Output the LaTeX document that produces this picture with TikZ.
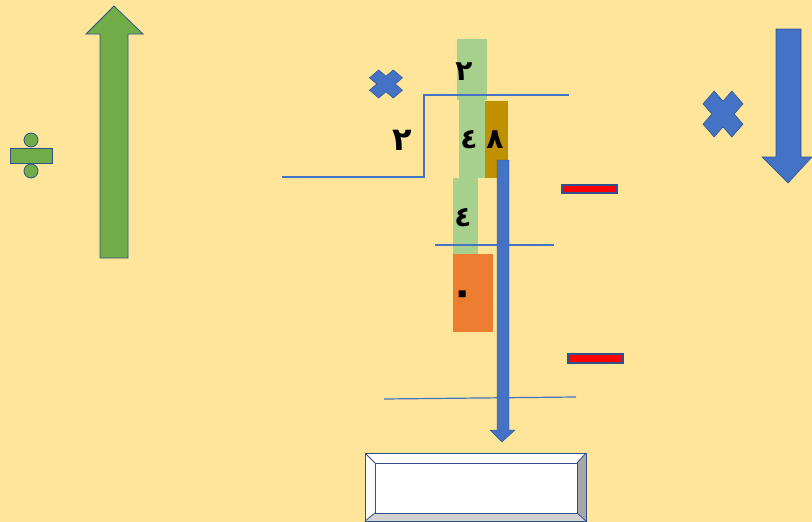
\documentclass[tikz,border=0pt]{standalone}
\usepackage{fontspec}
\newfontfamily\arabicfont[Script=Arabic]{DejaVu Sans}
\definecolor{bgy}{RGB}{254,229,153}
\definecolor{ablue}{RGB}{68,114,196}
\definecolor{dblue}{RGB}{47,82,143}
\definecolor{agreen}{RGB}{112,173,71}
\definecolor{lgreen}{RGB}{168,208,141}
\definecolor{abrown}{RGB}{191,144,0}
\definecolor{aorange}{RGB}{237,125,49}
\definecolor{ared}{RGB}{255,0,0}
\tikzset{
  digit/.style={font=\arabicfont\bfseries\fontsize{28}{28}\selectfont, text=black, inner sep=0pt},
  thinline/.style={draw=ablue, line width=1.2pt},
  crossshape/.style={fill=ablue, draw=dblue, line width=0.6pt},
  minusbar/.style={fill=ared, draw=dblue, line width=1.2pt},
}
\begin{document}
\begin{tikzpicture}[x=1pt,y=-1pt]
\useasboundingbox (0,0) rectangle (812,522);
\fill[bgy] (0,0) rectangle (812,522);
% division sign
\filldraw[fill=agreen, draw=dblue, line width=0.8pt] (10,148) rectangle (52,163);
\filldraw[fill=agreen, draw=dblue, line width=0.8pt] (31,140) circle (7);
\filldraw[fill=agreen, draw=dblue, line width=0.8pt] (31,171) circle (7);
% green up arrow
\filldraw[fill=agreen, draw=dblue, line width=0.8pt]
  (100,258) -- (100,34) -- (86,34) -- (114,6) -- (143,34) -- (128,34) -- (128,258) -- cycle;
% blue down arrow right
\filldraw[fill=ablue, draw=dblue, line width=0.6pt]
  (776,29) -- (801,29) -- (801,157) -- (812,157) -- (788,183) -- (762,157) -- (776,157) -- cycle;
% crosses
\begin{scope}[shift={(386,84)}, yscale=28/33, rotate=45]
  \path[crossshape] (-6.5,16.8) -- (6.5,16.8) -- (6.5,6.5) -- (16.8,6.5) -- (16.8,-6.5) -- (6.5,-6.5) -- (6.5,-16.8) -- (-6.5,-16.8) -- (-6.5,-6.5) -- (-16.8,-6.5) -- (-16.8,6.5) -- (-6.5,6.5) -- cycle;
\end{scope}
\begin{scope}[shift={(723,114)}, xscale=40/33, yscale=46/33, rotate=45]
  \path[crossshape] (-6.5,16.8) -- (6.5,16.8) -- (6.5,6.5) -- (16.8,6.5) -- (16.8,-6.5) -- (6.5,-6.5) -- (6.5,-16.8) -- (-6.5,-16.8) -- (-6.5,-6.5) -- (-16.8,-6.5) -- (-16.8,6.5) -- (-6.5,6.5) -- cycle;
\end{scope}
% coloured boxes
\fill[lgreen] (457,39) rectangle (487,100);
\fill[lgreen] (459,100) rectangle (485,178);
\fill[lgreen] (453,178) rectangle (478,254);
\fill[abrown] (485,101) rectangle (508,178);
\fill[aorange] (453,254) rectangle (493,332);
% division lines
\draw[thinline] (282,177) -- (424,177) -- (424,95) -- (569,95);
\draw[thinline] (435,245) -- (554,245);
\draw[thinline] (384,399) -- (576,397);
% blue vertical arrow
\filldraw[fill=ablue, draw=dblue, line width=0.4pt]
  (497,160) -- (509,160) -- (509,430) -- (515,430) -- (502,442) -- (490,430) -- (497,430) -- cycle;
% minus bars
\path[minusbar] (562,185) rectangle (617,193);
\path[minusbar] (568,354) rectangle (623,363);
% digits
\node[digit] (d2top) at (464,72) {٢};
\node[digit, font=\arabicfont\bfseries\fontsize{32}{32}\selectfont] (d2left) at (402,140) {٢};
\node[digit] (d4a) at (469,140) {٤};
\node[digit] (d8) at (495,140) {٨};
\node[digit] (d4b) at (463,218) {٤};
\node[digit, font=\arabicfont\bfseries\fontsize{40}{40}\selectfont] (d0) at (463,298) {٠};
% bevel answer box
\fill[white] (365,453) rectangle (586,521);
\fill[white] (365,453) -- (586,453) -- (577,463) -- (375,463) -- cycle;
\fill[white!97!gray] (365,453) -- (375,463) -- (375,513) -- (365,521) -- cycle;
\fill[gray!70] (586,453) -- (586,521) -- (577,513) -- (577,463) -- cycle;
\fill[gray!35] (365,521) -- (586,521) -- (577,513) -- (375,513) -- cycle;
\draw[dblue, line width=1pt] (365,453) rectangle (586,521);
\draw[dblue, line width=0.8pt] (375,463) rectangle (577,513);
\draw[dblue, line width=0.8pt] (365,453) -- (375,463) (586,453) -- (577,463) (365,521) -- (375,513) (586,521) -- (577,513);
\end{tikzpicture}
\end{document}
